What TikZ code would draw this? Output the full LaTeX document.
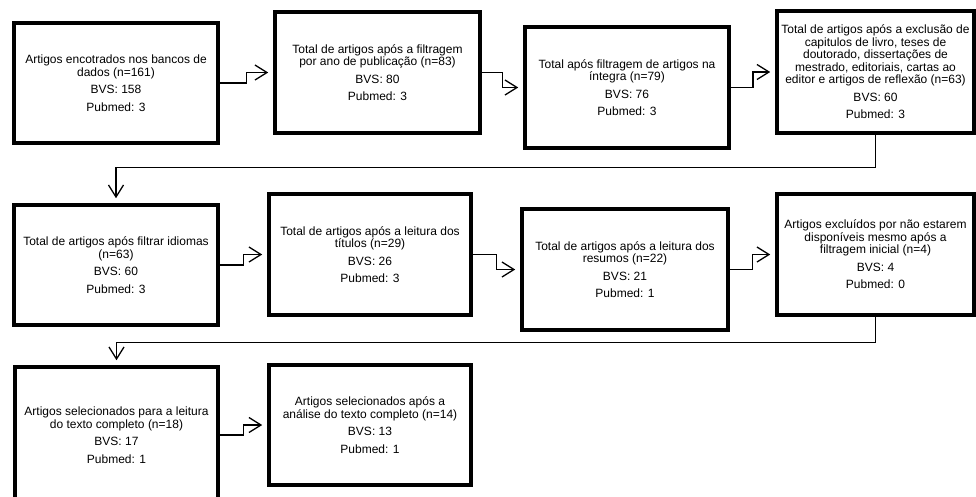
\documentclass[tikz,border=0pt]{standalone}
\usepackage{fontspec}
\setmainfont{Liberation Sans}
\usetikzlibrary{calc}
\usetikzlibrary{arrows.meta}
\tikzset{
    etapa/.style={draw=black, line width=3.6pt, align=center, inner sep=2pt,
                  font=\fontsize{12}{12.5}\selectfont},
    seta/.style={line width=1.3pt, -{Straight Barb[length=12pt,width=15pt]}, shorten >=5pt}
}

\begin{document}
\begin{tikzpicture}[x=1pt, y=-1pt]
        \useasboundingbox                                    (0,0) rectangle (976,496);
        \fill[white]                                         (0,0) rectangle (976,496);
        \clip                                                (0,0) rectangle (976,496);
        % primeira linha
        \node[etapa, minimum width=204pt, minimum height=120pt] (busca)    at (116.0, 83.0)
             {Artigos encotrados nos bancos de\\dados (n=161)\\[5pt]BVS: 158\\[5pt]Pubmed: 3};
        \node[etapa, minimum width=205pt, minimum height=121pt] (ano)      at (377.5, 72.5)
             {Total de artigos após a filtragem\\por ano de publicação (n=83)\\[5pt]BVS: 80\\[5pt]Pubmed: 3};
        \node[etapa, minimum width=204pt, minimum height=121pt] (integra)  at (627.0, 87.5)
             {Total após filtragem de artigos na\\íntegra (n=79)\\[5pt]BVS: 76\\[5pt]Pubmed: 3};
        \node[etapa, minimum width=197pt, minimum height=122pt] (exclusao) at (875.5, 72.0)
             {Total de artigos após a exclusão de\\capitulos de livro, teses de\\doutorado, dissertações de\\mestrado, editoriais, cartas ao\\editor e artigos de reflexão (n=63)\\[5pt]BVS: 60\\[5pt]Pubmed: 3};
        % segunda linha
        \node[etapa, minimum width=204pt, minimum height=120pt] (idioma)   at (116.0,265.0)
             {Total de artigos após filtrar idiomas\\(n=63)\\[5pt]BVS: 60\\[5pt]Pubmed: 3};
        \node[etapa, minimum width=202pt, minimum height=121pt] (titulos)  at (370.0,254.5)
             {Total de artigos após a leitura dos\\títulos (n=29)\\[5pt]BVS: 26\\[5pt]Pubmed: 3};
        \node[etapa, minimum width=206pt, minimum height=121pt] (resumos)  at (625.0,269.5)
             {Total de artigos após a leitura dos\\resumos (n=22)\\[5pt]BVS: 21\\[5pt]Pubmed: 1};
        \node[etapa, minimum width=197pt, minimum height=121pt] (indisp)   at (875.5,254.5)
             {Artigos excluídos por não estarem\\disponíveis mesmo após a\\filtragem inicial (n=4)\\[5pt]BVS: 4\\[5pt]Pubmed: 0};
        % terceira linha
        \node[etapa, minimum width=203pt, minimum height=136pt] (leitura)  at (116.5,435.0)
             {Artigos selecionados para a leitura\\do texto completo (n=18)\\[5pt]BVS: 17\\[5pt]Pubmed: 1};
        \node[etapa, minimum width=202pt, minimum height=120pt] (final)    at (370.0,425.0)
             {Artigos selecionados após a\\análise do texto completo (n=14)\\[5pt]BVS: 13\\[5pt]Pubmed: 1};
        % conectores
        \draw[seta] (busca.east)    -| ($(busca.east)!.5!(ano.west)$)        |- (ano.west);
        \draw[seta] (ano.east)      -| ($(ano.east)!.5!(integra.west)$)      |- (integra.west);
        \draw[seta] (integra.east)  -| ($(integra.east)!.5!(exclusao.west)$) |- (exclusao.west);
        \draw[seta] (exclusao.south) -- ++(0,33) -| (idioma.north);
        \draw[seta] (idioma.east)   -| ($(idioma.east)!.5!(titulos.west)$)   |- (titulos.west);
        \draw[seta] (titulos.east)  -| ($(titulos.east)!.5!(resumos.west)$)  |- (resumos.west);
        \draw[seta] (resumos.east)  -| ($(resumos.east)!.5!(indisp.west)$)   |- (indisp.west);
        \draw[seta] (indisp.south)  -- ++(0,26) -| (leitura.north);
        \draw[seta] (leitura.east)  -| ($(leitura.east)!.5!(final.west)$)    |- (final.west);
\end{tikzpicture}
\end{document}
